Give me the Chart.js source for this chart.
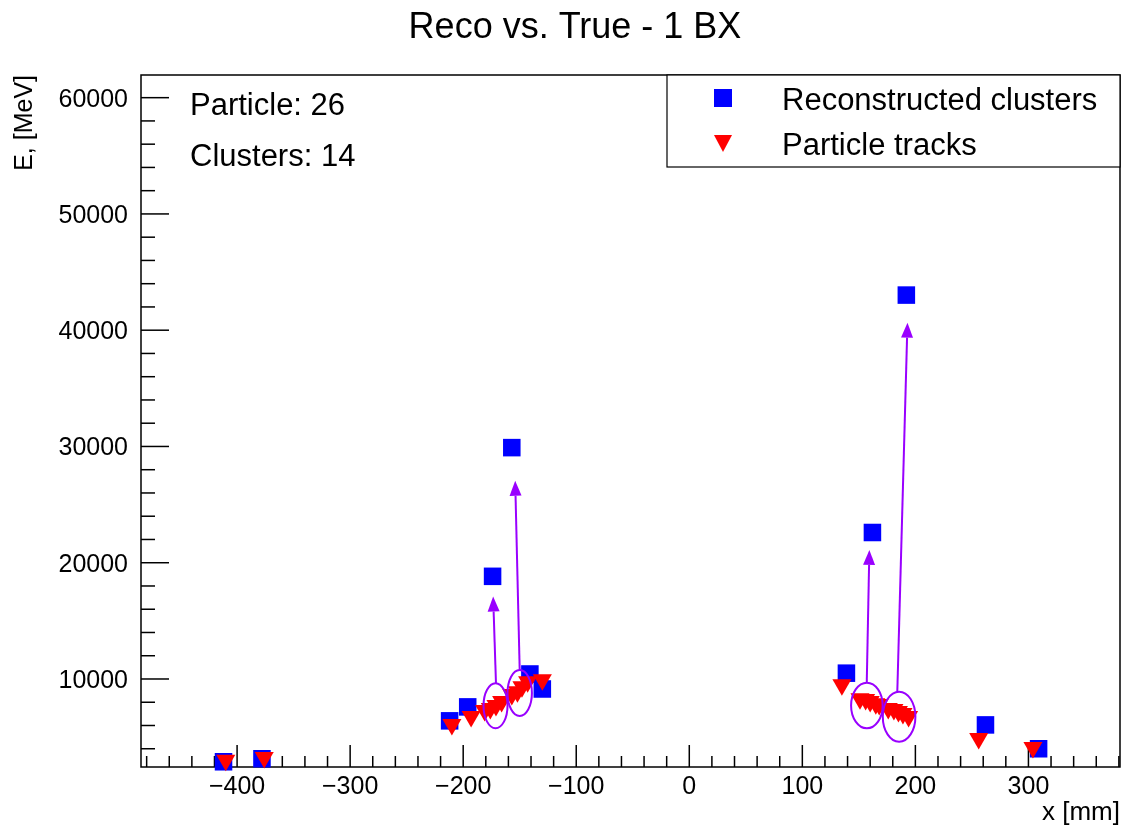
<!DOCTYPE html>
<html>
<head>
<meta charset="utf-8">
<title>Reco vs. True - 1 BX</title>
<script src="https://cdn.jsdelivr.net/npm/chart.js@4.4.1/dist/chart.umd.min.js"></script>
<style>
  html, body { margin: 0; padding: 0; background: #ffffff; }
  canvas { display: block; }
</style>
</head>
<body>
<canvas id="graficoReco" width="1125" height="826"></canvas>
<script>
// Clusters reconstruidos (x em mm, E em MeV)
const clustersX = [-412, -378, -212, -196, -174, -157, -141, -130, 139, 162, 192, 262, 309];
const clustersE = [2880, 3140, 6400, 7600, 18830, 29900, 10430, 9140, 10500, 22600, 43020, 6050, 4000];

// Tracos das particulas
const tracosX = [-410, -376, -210, -193, -181, -176, -171, -166, -157, -152, -148, -143, -130,
                 135, 151, 156, 160, 165, 168, 176, 181, 185, 189, 194, 256, 304];
const tracosE = [3000, 3250, 6080, 6770, 7280, 7460, 7710, 8060, 8660, 8910, 9340, 9770, 9940,
                 9510, 8310, 8230, 8060, 7880, 7800, 7460, 7370, 7200, 7030, 6770, 4880, 4110];

// Setas (inicio -> ponta) e elipses das anotacoes
const setaInicioX = [-171, -150, 157, 184];
const setaInicioE = [9650, 10700, 9750, 8900];
const setaFimX = [-173.5, -154, 159.3, 193];
const setaFimE = [17100, 27050, 21100, 40650];
const elipseX = [-171.4, -150, 157.1, 185.6];
const elipseE = [7700, 8800, 7720, 6760];

// Rotulos dos eixos
const ticksX = [-400, -300, -200, -100, 0, 100, 200, 300];
const ticksY = [10000, 20000, 30000, 40000, 50000, 60000];

const fonte = '"Liberation Sans", Arial, Helvetica, sans-serif';
const roxo = '#9900ff';

function linha(ctx, x0, y0, x1, y1) {
    ctx.beginPath();
    ctx.moveTo(x0, y0);
    ctx.lineTo(x1, y1);
    ctx.stroke();
}

const estiloRoot = {
    id: 'estiloRoot',
    beforeDatasetsDraw(chart) {
        const ctx = chart.ctx;
        const area = chart.chartArea;
        const escX = chart.scales.x;
        const escY = chart.scales.y;
        ctx.save();
        ctx.strokeStyle = '#000';
        ctx.lineWidth = 1.5;

        // ticks menores e maiores (para dentro, estilo ROOT)
        for (let v = -480; v <= 380; v += 20) {
            const px = escX.getPixelForValue(v);
            const tam = ticksX.includes(v) ? 22 : 11;
            linha(ctx, px, area.bottom, px, area.bottom - tam);
        }
        for (let v = 4000; v <= 60000; v += 2000) {
            const py = escY.getPixelForValue(v);
            const tam = ticksY.includes(v) ? 28 : 14;
            linha(ctx, area.left, py, area.left + tam, py);
        }

        // moldura
        ctx.lineWidth = 1.5;
        ctx.strokeRect(area.left, area.top, area.right - area.left, area.bottom - area.top);

        // rotulos
        ctx.fillStyle = '#000';
        ctx.font = '25px ' + fonte;
        ctx.textAlign = 'center';
        ticksX.forEach((v) => {
            const txt = v < 0 ? '\u2212' + Math.abs(v) : String(v);
            ctx.fillText(txt, escX.getPixelForValue(v), 794);
        });
        ctx.textAlign = 'right';
        ticksY.forEach((v) => {
            ctx.fillText(String(v), 128, escY.getPixelForValue(v) + 9);
        });

        // titulos dos eixos
        ctx.font = '26px ' + fonte;
        ctx.textAlign = 'right';
        ctx.fillText('x [mm]', area.right, 820);
        ctx.save();
        ctx.translate(32, area.top);
        ctx.rotate(-Math.PI / 2);
        ctx.font = '25px ' + fonte;
        ctx.textAlign = 'right';
        ctx.fillText('E, [MeV]', 0, 0);
        ctx.restore();

        // titulo
        ctx.font = '36px ' + fonte;
        ctx.textAlign = 'center';
        ctx.fillText('Reco vs. True - 1 BX', 575, 38);
        ctx.restore();
    },
    afterDatasetsDraw(chart) {
        const ctx = chart.ctx;
        const escX = chart.scales.x;
        const escY = chart.scales.y;
        ctx.save();
        ctx.strokeStyle = roxo;
        ctx.fillStyle = roxo;
        ctx.lineWidth = 2;

        // elipses
        const raiosX = [12, 12.2, 15.8, 16.3];
        const raiosY = [22.5, 23, 22.8, 25];
        for (let i = 0; i < elipseX.length; i++) {
            ctx.beginPath();
            ctx.ellipse(escX.getPixelForValue(elipseX[i]), escY.getPixelForValue(elipseE[i]),
                raiosX[i], raiosY[i], 0, 0, Math.PI * 2);
            ctx.stroke();
        }

        // setas
        for (let i = 0; i < setaInicioX.length; i++) {
            const x0 = escX.getPixelForValue(setaInicioX[i]);
            const y0 = escY.getPixelForValue(setaInicioE[i]);
            const x1 = escX.getPixelForValue(setaFimX[i]);
            const y1 = escY.getPixelForValue(setaFimE[i]);
            const ang = Math.atan2(y1 - y0, x1 - x0);
            const comp = 15, larg = 6;
            const bx = x1 - Math.cos(ang) * comp;
            const by = y1 - Math.sin(ang) * comp;
            linha(ctx, x0, y0, bx, by);
            ctx.beginPath();
            ctx.moveTo(x1, y1);
            ctx.lineTo(bx - Math.sin(ang) * larg, by + Math.cos(ang) * larg);
            ctx.lineTo(bx + Math.sin(ang) * larg, by - Math.cos(ang) * larg);
            ctx.closePath();
            ctx.fill();
        }

        // legenda
        ctx.strokeStyle = '#000';
        ctx.lineWidth = 1.2;
        ctx.fillStyle = '#fff';
        ctx.fillRect(667, 75, 453, 92);
        ctx.strokeRect(667, 75, 453, 92);
        ctx.fillStyle = '#0000ff';
        ctx.fillRect(714, 89, 18, 18);
        ctx.fillStyle = '#ff0000';
        ctx.beginPath();
        ctx.moveTo(714, 135);
        ctx.lineTo(732, 135);
        ctx.lineTo(723, 152);
        ctx.closePath();
        ctx.fill();
        ctx.fillStyle = '#000';
        ctx.font = '31px ' + fonte;
        ctx.textAlign = 'left';
        ctx.fillText('Reconstructed clusters', 782, 110);
        ctx.fillText('Particle tracks', 782, 155);

        // textos informativos
        ctx.fillText('Particle: 26', 190, 115);
        ctx.fillText('Clusters: 14', 190, 166);
        ctx.restore();
    }
};

let dadosClusters = clustersX.map((x, i) => ({ x: x, y: clustersE[i] }));
let dadosTracos = tracosX.map((x, i) => ({ x: x, y: tracosE[i] }));

const config = {
    type: 'scatter',
    data: {
        datasets: [
            {
                label: 'Reconstructed clusters',
                data: dadosClusters,
                pointStyle: 'rect',
                pointRadius: 12.4,
                pointBorderWidth: 0,
                backgroundColor: '#0000ff',
                borderColor: '#0000ff',
                clip: false,
                order: 2
            },
            {
                label: 'Particle tracks',
                data: dadosTracos,
                pointStyle: 'triangle',
                pointRotation: 180,
                pointRadius: 11,
                pointBorderWidth: 0,
                backgroundColor: '#ff0000',
                borderColor: '#ff0000',
                clip: false,
                order: 1
            }
        ]
    },
    options: {
        responsive: false,
        animation: false,
        devicePixelRatio: 1,
        layout: { autoPadding: false, padding: { left: 141, top: 75, right: 5, bottom: 59 } },
        plugins: {
            legend: { display: false },
            tooltip: { enabled: false }
        },
        scales: {
            x: { type: 'linear', display: false, min: -485, max: 381 },
            y: { type: 'linear', display: false, min: 2430, max: 61950 }
        }
    },
    plugins: [estiloRoot]
};

let grafico = new Chart(document.getElementById('graficoReco'), config);
</script>
</body>
</html>
